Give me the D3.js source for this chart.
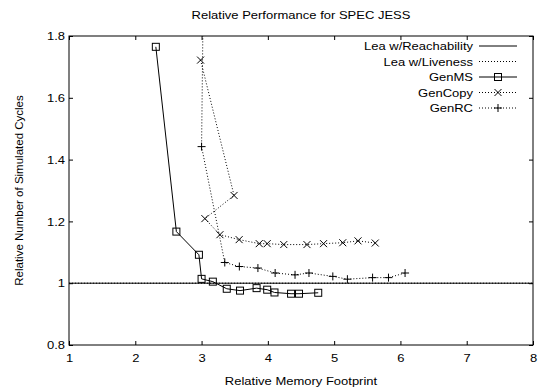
<!DOCTYPE html>
<html><head><meta charset="utf-8">
<script src="https://cdn.jsdelivr.net/npm/d3@7"></script>
<style>body{margin:0;background:#fff}svg{display:block}text{font-family:"Liberation Sans",Arial,Helvetica,sans-serif;font-size:11.5px;fill:#000}</style>
</head><body>
<svg id="c" width="540" height="388"></svg>
<script>
const title = "Relative Performance for SPEC JESS";
const xLabel = "Relative Memory Footprint";
const yLabel = "Relative Number of Simulated Cycles";
const xTicks = [1,2,3,4,5,6,7,8];
const yTicks = [0.8,1.0,1.2,1.4,1.6,1.8];
const yTickLabels = ["0.8","1","1.2","1.4","1.6","1.8"];
const seriesNames = ["Lea w/Reachability","Lea w/Liveness","GenMS","GenCopy","GenRC"];
const leaReach = [[1,1.0],[8,1.0]];
const leaLive = [[1,1.0],[8,1.0]];
const genMS = [[2.31,1.765],[2.62,1.167],[2.96,1.092],[3.00,1.014],[3.17,1.005],[3.38,0.982],[3.58,0.976],[3.83,0.984],[3.99,0.979],[4.10,0.970],[4.35,0.966],[4.47,0.966],[4.76,0.969]];
const genCopy = [[2.985,1.722],[3.49,1.284],[3.05,1.209],[3.277,1.157],[3.567,1.141],[3.87,1.128],[3.99,1.128],[4.24,1.125],[4.59,1.125],[4.84,1.128],[5.13,1.131],[5.36,1.137],[5.62,1.130]];
const genRC = [[3.04,2.2],[3.0,1.442],[3.35,1.067],[3.57,1.054],[3.85,1.049],[4.11,1.033],[4.41,1.027],[4.62,1.033],[4.98,1.022],[5.20,1.013],[5.58,1.018],[5.82,1.018],[6.07,1.033]];

const L=69,R=533,T=36,B=345, SX=1.13;
const svg=d3.select("#c");
const x=d3.scaleLinear().domain([1,8]).range([L,R]);
const y=d3.scaleLinear().domain([0.8,1.8]).range([B,T]);

svg.append("defs").append("clipPath").attr("id","clip").append("rect").attr("x",L).attr("y",T).attr("width",R-L).attr("height",B-T);

function htext(px,py,anchor,str){
  return svg.append("text").attr("transform",`translate(${px},${py}) scale(${SX},1)`).attr("text-anchor",anchor).text(str);
}

const tl=4;
svg.append("g").attr("transform",`translate(0,${B})`).call(d3.axisBottom(x).tickValues(xTicks).tickSizeInner(-tl).tickSizeOuter(0).tickPadding(9).tickFormat(d3.format("d")))
  .call(g=>{g.select(".domain").remove();g.selectAll("line").attr("stroke","#000");g.selectAll("text").attr("transform",`scale(${SX},1)`);});
svg.append("g").attr("transform",`translate(0,${T})`).call(d3.axisTop(x).tickValues(xTicks).tickSizeInner(-tl).tickSizeOuter(0).tickFormat(""))
  .call(g=>{g.select(".domain").remove();g.selectAll("line").attr("stroke","#000");});
svg.append("g").attr("transform",`translate(${L},0)`).call(d3.axisLeft(y).tickValues(yTicks).tickSizeInner(-tl).tickSizeOuter(0).tickPadding(3.5).tickFormat((d,i)=>yTickLabels[i]))
  .call(g=>{g.select(".domain").remove();g.selectAll("line").attr("stroke","#000");g.selectAll("text").attr("transform",`scale(${SX},1)`);});
svg.append("g").attr("transform",`translate(${R},0)`).call(d3.axisRight(y).tickValues(yTicks).tickSizeInner(-tl).tickSizeOuter(0).tickFormat(""))
  .call(g=>{g.select(".domain").remove();g.selectAll("line").attr("stroke","#000");});
svg.selectAll(".tick text").attr("font-size",11.5).attr("font-family","Liberation Sans, Arial, sans-serif").attr("fill","#000");

svg.append("rect").attr("x",L).attr("y",T).attr("width",R-L).attr("height",B-T).attr("fill","none").attr("stroke","#000").attr("stroke-width",1);

htext((L+R)/2,19,"middle",title);
htext((L+R)/2,385,"middle",xLabel);
svg.append("text").attr("transform",`translate(23,${(T+B)/2}) rotate(-90)`).attr("text-anchor","middle").text(yLabel);

const line=d3.line().x(d=>x(d[0])).y(d=>y(d[1]));
const plot=svg.append("g").attr("clip-path","url(#clip)");
const styles=[
 {data:leaReach,dash:null,marker:null},
 {data:leaLive,dash:"1,2",marker:null},
 {data:genMS,dash:null,marker:"sq"},
 {data:genCopy,dash:"1,2",marker:"x"},
 {data:genRC,dash:"1,2",marker:"plus"}
];
function marker(g,type,cx,cy){
  if(type==="sq") g.append("rect").attr("x",cx-3.5).attr("y",cy-3.5).attr("width",7).attr("height",7).attr("fill","none").attr("stroke","#000");
  else if(type==="x") g.append("path").attr("d",`M${cx-3.5},${cy-3.5}L${cx+3.5},${cy+3.5}M${cx-3.5},${cy+3.5}L${cx+3.5},${cy-3.5}`).attr("stroke","#000");
  else if(type==="plus") g.append("path").attr("d",`M${cx-4},${cy}L${cx+4},${cy}M${cx},${cy-4}L${cx},${cy+4}`).attr("stroke","#000");
}
styles.forEach(s=>{
  plot.append("path").datum(s.data).attr("d",line).attr("fill","none").attr("stroke","#000").attr("stroke-width",1).attr("stroke-dasharray",s.dash);
  if(s.marker) s.data.forEach(d=>{ if(d[1]<=1.8) marker(plot,s.marker,x(d[0]),y(d[1])); });
});

const lg=svg.append("g");
seriesNames.forEach((n,i)=>{
  const yy=46+i*15.5;
  htext(473,yy+4,"end",n);
  lg.append("line").attr("x1",479).attr("x2",517).attr("y1",yy).attr("y2",yy).attr("stroke","#000").attr("stroke-dasharray",styles[i].dash);
  if(styles[i].marker) marker(lg,styles[i].marker,498,yy);
});
</script>
</body></html>
